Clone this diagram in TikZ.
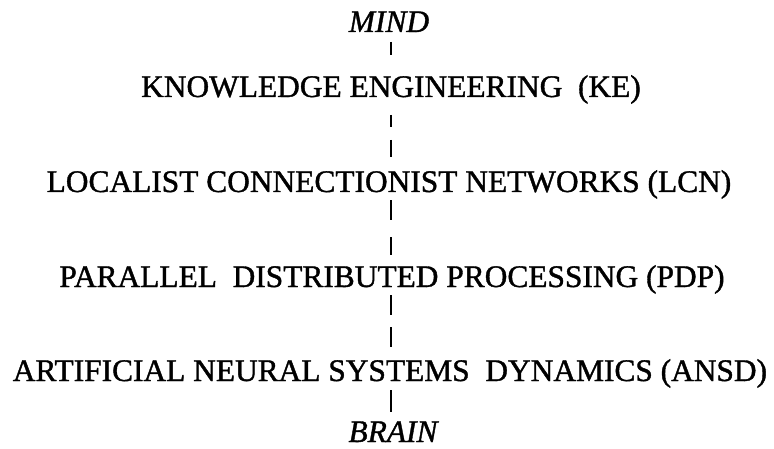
\documentclass[tikz,border=0pt]{standalone}
\usepackage{fontspec}
\setmainfont[FakeBold=1.2]{Liberation Serif}
\begin{document}
\begin{tikzpicture}[x=1pt,y=1pt,
  level/.style={inner sep=0pt, anchor=base, font=\fontsize{31.4}{36}\selectfont},
  pole/.style={inner sep=0pt, anchor=base, font=\fontsize{31.4}{36}\selectfont\itshape},
  tick/.style={line width=2.4pt, draw=black}]
\useasboundingbox (0,0) rectangle (774,448);
% levels of description, top (mind) to bottom (brain); y = 448 - baseline
\node[pole]  (mind)  at (389,416) {MIND};
\node[level] (ke)    at (391,351) {KNOWLEDGE ENGINEERING\ \ (KE)};
\node[level] (lcn)   at (389,256) {LOCALIST CONNECTIONIST NETWORKS (LCN)};
\node[level] (pdp)   at (392,161) {PARALLEL\ \ DISTRIBUTED PROCESSING (PDP)};
\node[level] (ansd)  at (390,67)  {ARTIFICIAL NEURAL SYSTEMS\ \ DYNAMICS (ANSD)};
\node[pole]  (brain) at (393,6)   {BRAIN};
% broken vertical axis joining the levels
\draw[tick, shorten <=10pt, shorten >=42pt] (mind.base -| 391,0) -- (ke.base -| 391,0);
\draw[tick, shorten <=18pt, shorten >=35pt, dash pattern=on 12pt off 13pt on 17pt off 5pt] (ke.base -| 391,0) -- (lcn.base -| 391,0);
\draw[tick, shorten <=8pt, shorten >=32pt, dash pattern=on 20pt off 17pt on 18pt off 5pt] (lcn.base -| 391,0) -- (pdp.base -| 391,0);
\draw[tick, shorten <=8pt, shorten >=33pt, dash pattern=on 20pt off 12pt on 20pt off 5pt] (pdp.base -| 391,0) -- (ansd.base -| 391,0);
\draw[tick, shorten <=9pt, shorten >=30pt] (ansd.base -| 391,0) -- (brain.base -| 391,0);
\end{tikzpicture}
\end{document}
